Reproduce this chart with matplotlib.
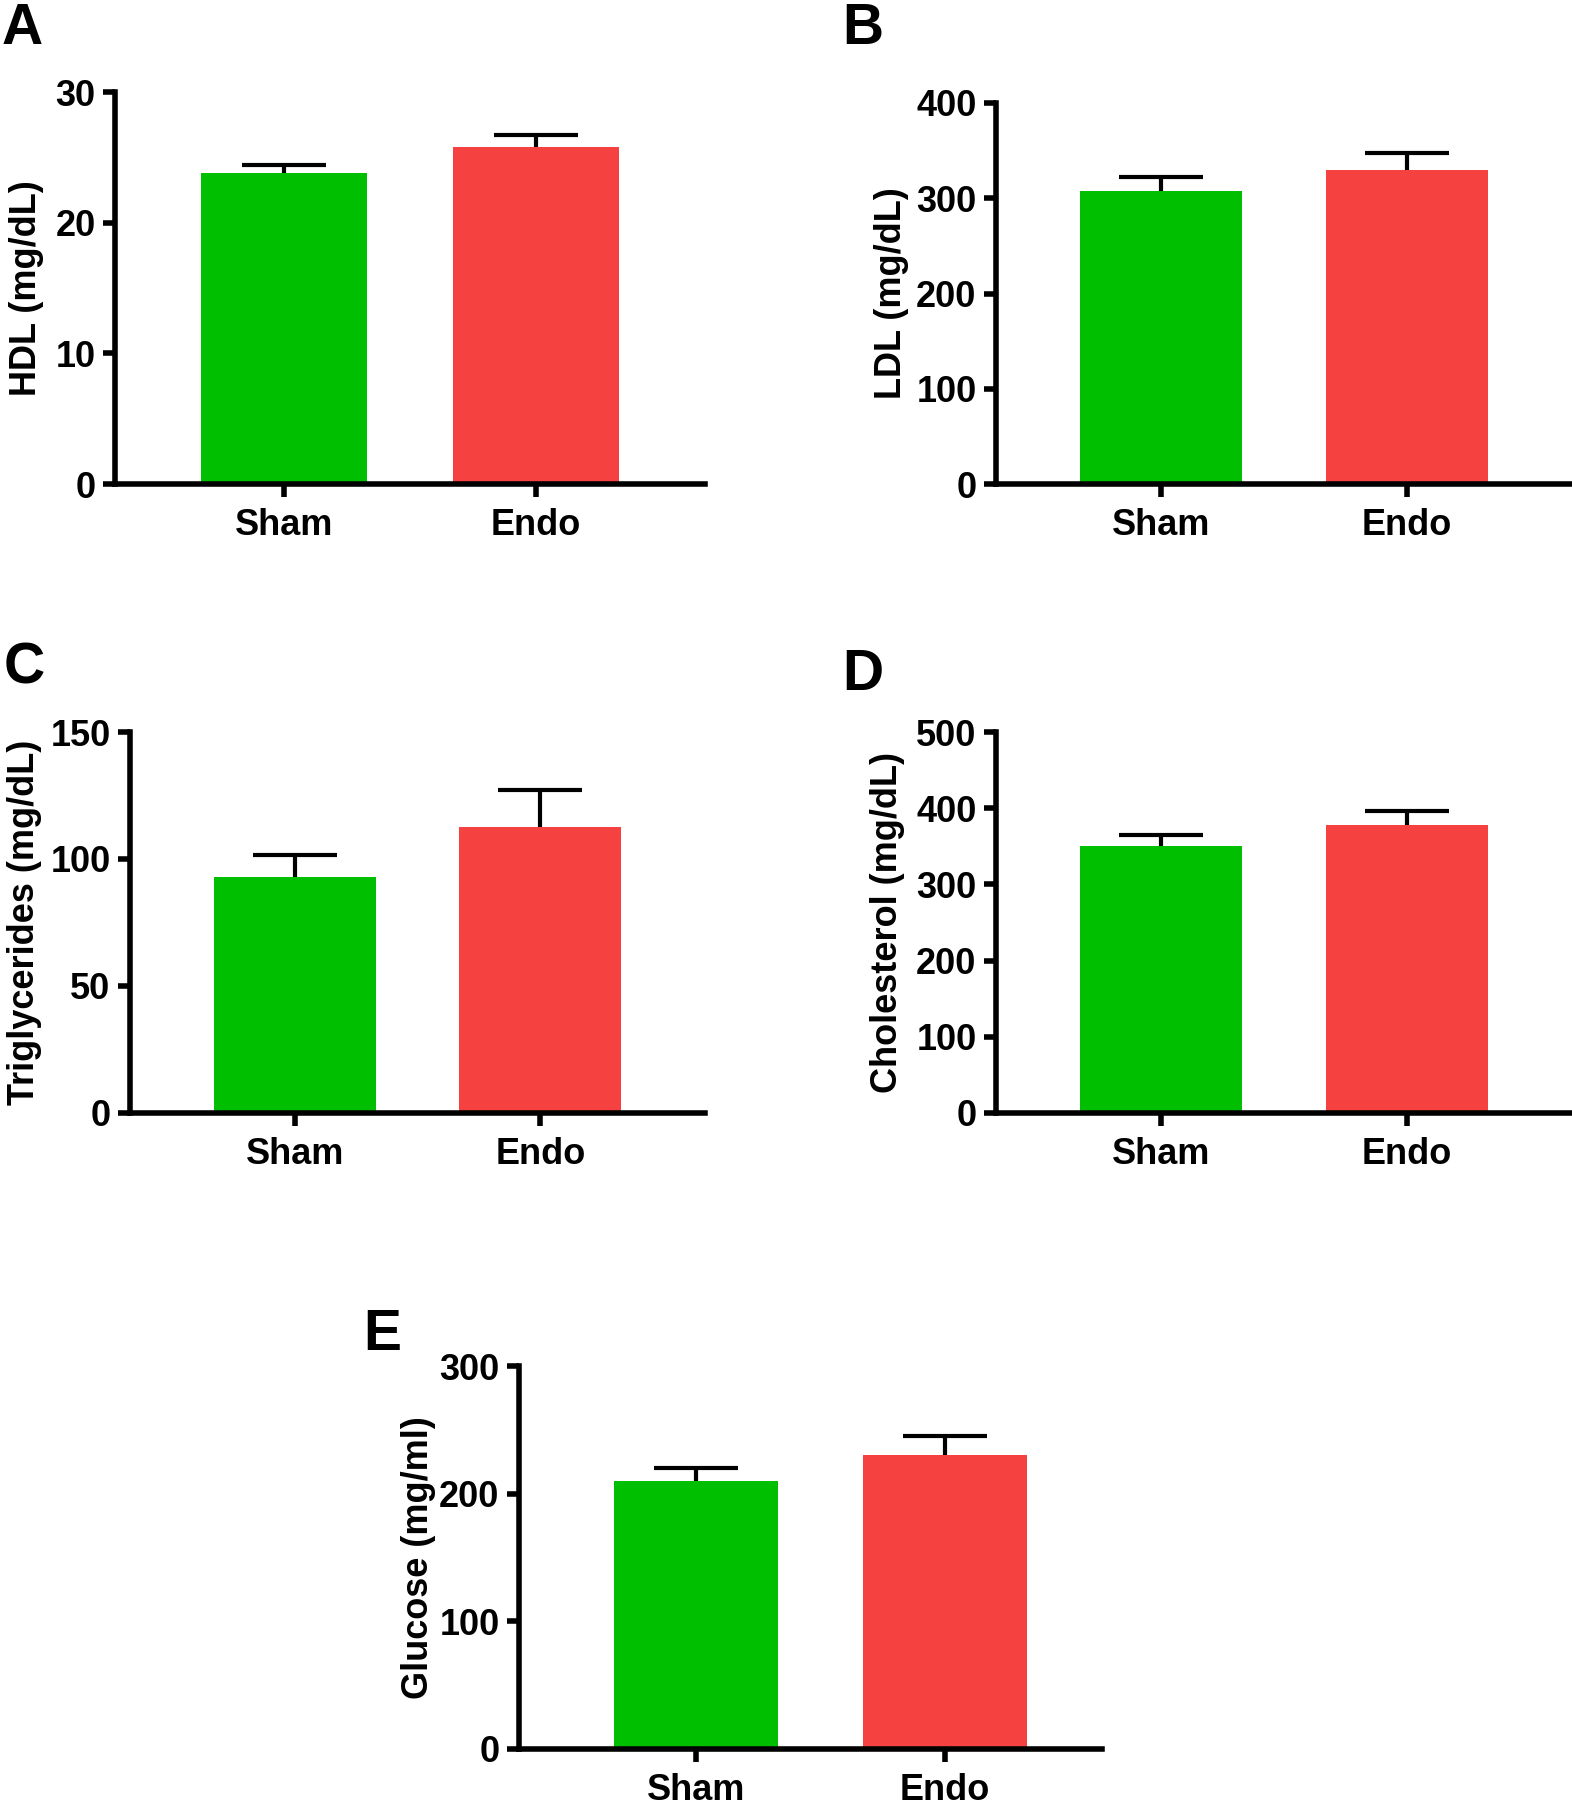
import matplotlib.pyplot as plt

plt.rcParams['font.family'] = ['Liberation Sans', 'DejaVu Sans']
plt.rcParams['font.weight'] = 'bold'

groups = ['Sham', 'Endo']
colors = ['#00BF00', '#F64141']

hdl_mean = [23.8, 25.8]
hdl_sem = [0.6, 0.9]
ldl_mean = [308, 330]
ldl_sem = [14, 18]
tg_mean = [93, 112.5]
tg_sem = [8.5, 14.5]
chol_mean = [350, 378]
chol_sem = [15, 18]
glu_mean = [210, 230]
glu_sem = [10, 15]

W, H = 1572, 1800
fig = plt.figure(figsize=(W / 100, H / 100), dpi=100)


def panel(px_left, px_right, px_top, px_bottom, means, sems, ymax, step,
          ylabel, letter, letter_xy, xleft=-0.67, labelpad=8):
    ax = fig.add_axes([px_left / W, 1 - px_bottom / H,
                       (px_right - px_left) / W, (px_bottom - px_top) / H])
    x = range(len(groups))
    # symmetric bars drawn behind the columns, so only the upper half shows
    ax.errorbar(x, means, yerr=sems, fmt='none', ecolor='black',
                elinewidth=3, capsize=30, capthick=3, zorder=1)
    ax.bar(x, means, width=0.66, color=colors, zorder=2)
    ax.set_ylim(0, ymax)
    ax.set_xlim(xleft, xleft + 2.34)
    ax.set_yticks(range(0, ymax + 1, step))
    ax.set_xticks(list(x))
    ax.set_xticklabels(groups)
    for s in ['top', 'right']:
        ax.spines[s].set_visible(False)
    for s in ['left', 'bottom']:
        ax.spines[s].set_linewidth(4)
        ax.spines[s].set_zorder(3)
    ax.tick_params(axis='both', direction='out', length=9, width=4,
                   labelsize=26, pad=5)
    ax.tick_params(axis='x', pad=8)
    for lab in ax.get_xticklabels() + ax.get_yticklabels():
        lab.set_fontweight('bold')
    ax.set_ylabel(ylabel, fontsize=26, fontweight='bold', labelpad=labelpad)
    fig.text(letter_xy[0] / W, 1 - letter_xy[1] / H, letter, fontsize=41,
             fontweight='bold', ha='left', va='top')
    return ax


panel(115, 705, 92, 484, hdl_mean, hdl_sem, 30, 10, 'HDL (mg/dL)', 'A', (2, 2))
panel(996, 1572, 103, 484, ldl_mean, ldl_sem, 400, 100, 'LDL (mg/dL)', 'B',
      (842, 2), labelpad=5)
panel(130, 705, 732, 1113, tg_mean, tg_sem, 150, 50,
      'Triglycerides (mg/dL)', 'C', (4, 642), labelpad=6)
panel(996, 1572, 732, 1113, chol_mean, chol_sem, 500, 100,
      'Cholesterol (mg/dL)', 'D', (842, 648))
panel(519, 1102, 1366, 1749, glu_mean, glu_sem, 300, 100,
      'Glucose (mg/ml)', 'E', (363, 1308), xleft=-0.71, labelpad=2)

fig.savefig('out.png', dpi=100)
